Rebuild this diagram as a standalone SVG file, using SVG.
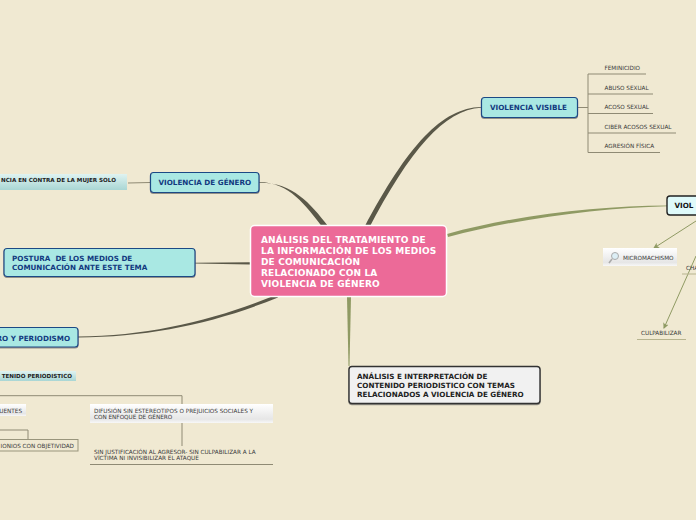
<svg xmlns="http://www.w3.org/2000/svg" width="696" height="520" viewBox="0 0 696 520">
<style>
text{font-family:"DejaVu Sans","Liberation Sans",sans-serif;white-space:pre}
.m{font-weight:700;font-size:7.2px;fill:#123a7f}
.l{font-size:5.7px;fill:#3a3a3a}
.s{font-size:5.6px;font-weight:700;fill:#222}
.b{fill:#a9e8e3;stroke:#1f4a85;stroke-width:1.2;filter:url(#sh)}
.t{fill:none;stroke:#8f8a74;stroke-width:1}
.g{fill:none;stroke:#8f9a63;stroke-width:1}
.u{fill:none;stroke:#b7b48f;stroke-width:1}
</style>
<defs>
<filter id="sh" x="-10%" y="-20%" width="120%" height="150%"><feDropShadow dx="0" dy="1" stdDeviation=".7" flood-color="#555" flood-opacity=".6"/></filter>
<linearGradient id="w" x1="0" y1="0" x2="0" y2="1"><stop offset="0" stop-color="#fff"/><stop offset=".8" stop-color="#e6e6e6"/><stop offset="1" stop-color="#f8f8f8"/></linearGradient>
<linearGradient id="c" x1="0" y1="0" x2="0" y2="1"><stop offset="0" stop-color="#dff3f1"/><stop offset="1" stop-color="#a9d6d4"/></linearGradient>
<marker id="a" markerWidth="7" markerHeight="7" refX="5" refY="3" orient="auto"><path d="M0 0L6 3L0 6L1.5 3Z" fill="#8f9a63"/></marker>
</defs>
<rect width="696" height="520" fill="#f0e9d2"/>
<g id="connectors">
<path d="M481 107C442 108 408 145 364 228L368 230C410 150 444 110 481 107.800Z" fill="#5a5848"/>
<path d="M259 182C290 182.500 305 205 324 229L328 226C310 203 292 182 259 182.800Z" fill="#5a5848"/>
<path d="M195 262.800L250 262.200L250 264.500L195 263.500Z" fill="#5a5848"/>
<path d="M78 336.600C150 336 215 320 276 295L278 297.500C215 323 150 337 78 337.400Z" fill="#5a5848"/>
<path d="M447 234C520 214 600 206 667 205.400L667 206.200C600 208 520 218 448 237Z" fill="#8f9a63"/>
<path d="M347 297L351 297L349.500 366L348.500 366Z" fill="#8f9a63"/>
<path d="M128 183L150 182.500" class="t"/>
<path d="M577 107.500H588" class="t"/>
<path d="M588 74H646M588 94H653M588 113.500H653M588 133H676M588 152.500H660M588 74V152.500" class="t"/>
<path d="M696 221L654 248" class="g" marker-end="url(#a)"/>
<path d="M696 256L664 328" class="g" marker-end="url(#a)"/>
<path d="M0 395.700H182V446" class="t"/>
<path d="M90 464.500H273" class="t"/>
<path d="M0 430H28V439" class="t"/>
</g>
<g id="n-center"><rect x="250.500" y="225.500" width="196" height="71" rx="4" fill="#ec6a98" stroke="#fff" stroke-width="1.500"/>
<text font-size="9" font-weight="700" fill="#fff" letter-spacing=".15"><tspan x="261" y="243">ANÁLISIS DEL TRATAMIENTO DE</tspan><tspan x="261" y="254">LA INFORMACIÓN DE LOS MEDIOS</tspan><tspan x="261" y="265">DE COMUNICACIÓN</tspan><tspan x="261" y="276">RELACIONADO CON LA</tspan><tspan x="261" y="287">VIOLENCIA DE GÉNERO</tspan></text></g>
<g id="n-visible"><rect x="481.500" y="97.500" width="96" height="20" rx="3" class="b"/><text x="490" y="110" class="m">VIOLENCIA VISIBLE</text></g>
<g id="n-genero"><rect x="150.500" y="172.500" width="108.500" height="20" rx="3" class="b"/><text x="158.500" y="185" class="m">VIOLENCIA DE GÉNERO</text></g>
<g id="n-postura"><rect x="4" y="248.500" width="191" height="28" rx="3" class="b"/><text class="m"><tspan x="12" y="261">POSTURA  DE LOS MEDIOS DE</tspan><tspan x="12" y="270">COMUNICACIÓN ANTE ESTE TEMA</tspan></text></g>
<g id="n-periodismo"><rect x="-10" y="327.500" width="88" height="19.500" rx="3" class="b"/><text x="70" y="340.500" class="m" text-anchor="end">RO Y PERIODISMO</text></g>
<g id="n-invisible"><rect x="667" y="196" width="40" height="19" rx="3" fill="#dffafa" stroke="#222" stroke-width="1.400"/><text x="674.500" y="208" font-size="7.200" font-weight="700" fill="#111">VIOL</text></g>
<g id="n-analisis"><rect x="349" y="366.500" width="191" height="37" rx="3" fill="#f1f1f1" stroke="#333" stroke-width="1.400" style="filter:url(#sh)"/><text font-size="7.200" font-weight="700" fill="#222"><tspan x="357" y="379">ANÁLISIS E INTERPRETACIÓN DE</tspan><tspan x="357" y="388">CONTENIDO PERIODISTICO CON TEMAS</tspan><tspan x="357" y="396.500">RELACIONADOS A VIOLENCIA DE GÉNERO</tspan></text></g>
<g id="n-contra"><rect x="-20" y="174" width="147" height="16" fill="url(#c)"/><text x="116" y="182" class="s" text-anchor="end">NCIA EN CONTRA DE LA MUJER SOLO</text></g>
<g id="n-contenido"><rect x="-10" y="371" width="86" height="10" fill="url(#c)"/><text x="72" y="378" class="s" text-anchor="end">TENIDO PERIODISTICO</text></g>
<g id="n-fem"><text x="604.500" y="70" class="l">FEMINICIDIO</text></g>
<g id="n-abuso"><text x="604.500" y="90" class="l">ABUSO SEXUAL</text></g>
<g id="n-acoso"><text x="604.500" y="109" class="l">ACOSO SEXUAL</text></g>
<g id="n-ciber"><text x="604.500" y="129" class="l">CIBER ACOSOS SEXUAL</text></g>
<g id="n-agresion"><text x="604.500" y="148" class="l">AGRESIÓN FÍSICA</text></g>
<g id="n-micro"><rect x="603" y="248" width="74" height="18" fill="url(#w)"/><circle cx="615" cy="256" r="3.500" fill="#dceef5" stroke="#aaa"/><path d="M612 259L609 263" stroke="#aaa" stroke-width="1.500"/><text x="623" y="260" class="l">MICROMACHISMO</text></g>
<g id="n-cha"><text x="686" y="270" class="l">CHA</text><path d="M682 274H696" class="u"/></g>
<g id="n-culpa"><text x="641" y="335" class="l">CULPABILIZAR</text><path d="M637 339.500H686" class="u"/></g>
<g id="n-fuentes"><rect x="-10" y="404" width="36" height="12" fill="url(#w)"/><text x="22" y="413" class="l" text-anchor="end">UENTES</text></g>
<g id="n-difusion"><rect x="90" y="404" width="183" height="19" fill="url(#w)"/><text class="l"><tspan x="94" y="413">DIFUSIÓN SIN ESTEREOTIPOS O PREJUICIOS SOCIALES Y</tspan><tspan x="94" y="419">CON ENFOQUE DE GÉNERO</tspan></text></g>
<g id="n-testimonios"><rect x="-10" y="439.500" width="88" height="11.500" fill="none" stroke="#99957c"/><text x="74" y="448" class="l" text-anchor="end">IONIOS CON OBJETIVIDAD</text></g>
<g id="n-sin"><text class="l"><tspan x="94" y="454">SIN JUSTIFICACIÓN AL AGRESOR- SIN CULPABILIZAR A LA</tspan><tspan x="94" y="460">VÍCTIMA NI INVISIBILIZAR EL ATAQUE</tspan></text></g>
</svg>
